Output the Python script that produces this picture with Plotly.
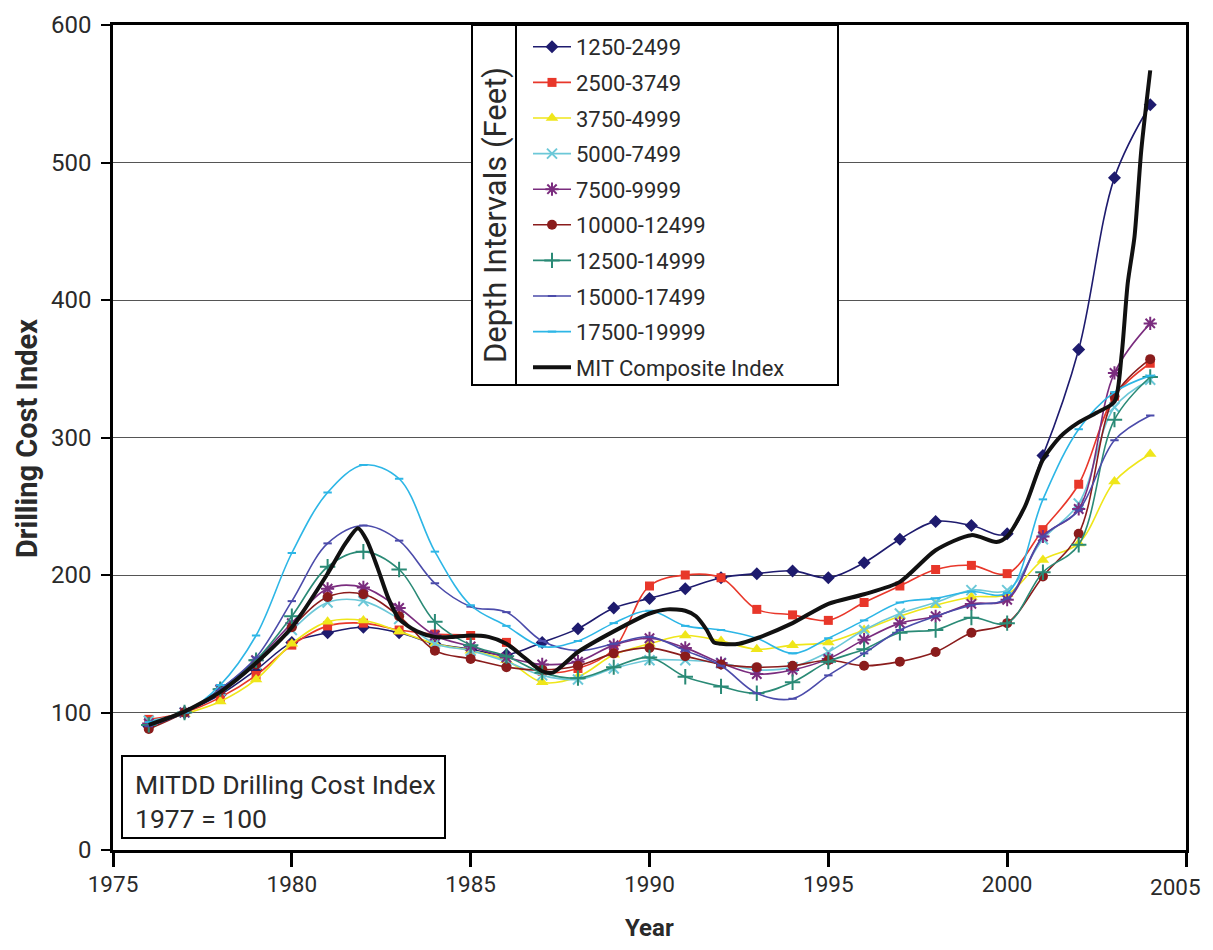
import plotly.graph_objects as go

years = list(range(1976, 2005))

d1250 = [90, 100, 113, 131, 151, 158, 162, 158, 150, 146, 142, 151, 161, 176, 183, 190, 198, 201, 203, 198, 209, 226, 239, 236, 230, 287, 364, 489, 542]
d2500 = [95, 100, 111, 127, 149, 163, 165, 160, 157, 156, 151, 130, 132, 146, 192, 200, 198, 175, 171, 167, 180, 192, 204, 207, 201, 233, 266, 330, 354]
d3750 = [93, 99, 108, 124, 150, 166, 167, 159, 150, 145, 138, 122, 126, 142, 150, 156, 152, 146, 149, 151, 160, 170, 178, 184, 186, 211, 223, 268, 288]
d5000 = [94, 100, 116, 135, 160, 180, 181, 168, 150, 145, 137, 127, 124, 132, 138, 138, 136, 131, 133, 144, 160, 172, 180, 189, 189, 226, 252, 322, 342]
d7500 = [92, 100, 117, 138, 165, 190, 191, 176, 156, 148, 140, 135, 137, 149, 154, 147, 136, 128, 131, 139, 153, 165, 170, 179, 182, 228, 248, 347, 383]
d10000 = [88, 100, 116, 135, 162, 184, 186, 170, 145, 139, 133, 131, 134, 143, 147, 141, 135, 133, 134, 138, 134, 137, 144, 158, 165, 199, 230, 330, 357]
d12500 = [91, 100, 117, 138, 170, 206, 217, 204, 166, 149, 141, 129, 125, 133, 140, 126, 119, 114, 122, 137, 146, 158, 160, 169, 165, 202, 222, 313, 344]
d15000 = [90, 100, 117, 140, 181, 223, 236, 225, 194, 177, 173, 152, 145, 150, 155, 145, 134, 114, 110, 127, 143, 160, 170, 178, 183, 228, 247, 298, 316]
d17500 = [93, 100, 120, 156, 216, 260, 280, 270, 217, 178, 163, 148, 152, 165, 174, 163, 160, 154, 143, 154, 167, 180, 183, 188, 187, 255, 306, 333, 345]

comp_years = [1976, 1977, 1978, 1979, 1980, 1981, 1981.5, 1981.85, 1982.1, 1982.4, 1982.7, 1983, 1983.5, 1984,
              1984.5, 1985, 1985.5, 1986, 1986.5, 1987, 1987.3, 1988, 1989, 1990, 1990.5, 1991, 1991.3, 1991.6,
              1991.8, 1992, 1992.5, 1993, 1994, 1995, 1996, 1997, 1998, 1999, 1999.7, 2000, 2000.5, 2001,
              2001.5, 2002, 2002.5, 2003, 2003.2, 2003.37, 2003.56, 2003.75, 2004]
composite = [91, 100.6, 115, 136, 162, 201, 223, 234, 225, 205, 183, 168, 159, 155,
             155, 156, 155, 150, 140, 130, 129, 144, 159, 172, 175, 174, 170, 160,
             151, 150, 150, 154, 165, 179, 186, 195, 218, 229, 224, 228, 250, 284,
             301, 311, 318, 326, 360, 412, 446, 509, 567]

names = ["1250-2499", "2500-3749", "3750-4999", "5000-7499", "7500-9999",
         "10000-12499", "12500-14999", "15000-17499", "17500-19999"]
series = [d1250, d2500, d3750, d5000, d7500, d10000, d12500, d15000, d17500]
colors = ["#1E1B6E", "#E8372A", "#EFE61A", "#6CC8D8", "#7A2C7E",
          "#8A1C1C", "#2A8A76", "#4B4BAA", "#2DB6E6"]
symbols = ["diamond", "square", "triangle-up", "x-thin", "asterisk-open",
           "circle", "cross-thin", "line-ew", "line-ew"]
sizes = [10, 9, 11, 10, 11, 10, 11, 6, 6]
open_syms = {"x-thin", "asterisk-open", "cross-thin", "line-ew"}

x_tickvals = [1975, 1980, 1985, 1990, 1995, 2000, 2005]
x_ticktext = ["1975", "1980", "1985", "1990", "1995", "2000", ""]
last_tick_label = "2005"
y_tickvals = [0, 100, 200, 300, 400, 500, 600]

FONT = "Roboto, 'DejaVu Sans Condensed', sans-serif"
TXT = "#2a2a2a"

fig = go.Figure()
for i, (nm, vals) in enumerate(zip(names, series)):
    fig.add_trace(go.Scatter(
        x=years, y=vals, name=nm, mode="lines+markers", legendgroup=nm,
        line=dict(color=colors[i], width=1.6, shape="spline", smoothing=1.0),
        marker=dict(symbol=symbols[i], size=sizes[i], color=colors[i],
                    line=dict(color=colors[i], width=2 if symbols[i] in open_syms else 0)),
    ))
fig.add_trace(go.Scatter(
    x=comp_years, y=composite, name="MIT Composite Index", mode="lines", legendgroup="mit",
    line=dict(color="#111111", width=4, shape="spline", smoothing=0.7),
))

# page pixel -> paper coordinates (plot area spans x 113..1186, y 25..850 on the page)
def px_x(p):
    return (p - 113) / 1073

def px_y(p):
    return (850 - p) / 825

shapes = [
    dict(type="rect", xref="paper", yref="paper", x0=px_x(472), x1=px_x(838), y0=px_y(385), y1=px_y(25),
         line=dict(color="black", width=2), fillcolor="white", layer="above"),
    dict(type="line", xref="paper", yref="paper", x0=px_x(516), x1=px_x(516), y0=px_y(385), y1=px_y(25),
         line=dict(color="black", width=2), layer="above"),
    dict(type="rect", xref="paper", yref="paper", x0=px_x(122), x1=px_x(445), y0=px_y(838), y1=px_y(756),
         line=dict(color="black", width=2), fillcolor="white", layer="above"),
]

annotations = [
    dict(text="Depth Intervals (Feet)", textangle=-90, xref="paper", yref="paper",
         x=px_x(495), y=px_y(215), showarrow=False, xanchor="center", yanchor="middle",
         font=dict(family=FONT, size=31, color=TXT)),
    dict(text="MITDD Drilling Cost Index<br>1977 = 100", xref="paper", yref="paper",
         x=px_x(133), y=px_y(801), showarrow=False, xanchor="left", yanchor="middle", align="left",
         font=dict(family=FONT, size=26.5, color=TXT)),
    dict(text="<b>Year</b>", xref="paper", yref="paper", x=px_x(649), y=px_y(928), showarrow=False,
         xanchor="center", yanchor="middle", font=dict(family=FONT, size=24, color=TXT)),
    dict(text="<b>Drilling Cost Index</b>", textangle=-90, xref="paper", yref="paper",
         x=px_x(27), y=px_y(439), showarrow=False, xanchor="center", yanchor="middle",
         font=dict(family=FONT, size=29, color=TXT)),
    # last x tick label, nudged left so it stays inside the page
    dict(text=last_tick_label, xref="x", yref="paper", x=x_tickvals[-1], y=px_y(887),
         showarrow=False, xanchor="right", yanchor="middle", xshift=17,
         font=dict(family=FONT, size=22.5, color=TXT)),
]

fig.update_layout(
    width=1205, height=934,
    margin=dict(l=105, r=27, t=17, b=92, autoexpand=False),
    paper_bgcolor="white", plot_bgcolor="white",
    font=dict(family=FONT, size=24, color=TXT),
    shapes=shapes, annotations=annotations,
    showlegend=True,
    legend=dict(x=px_x(528), y=px_y(26), xanchor="left", yanchor="top",
                bgcolor="rgba(0,0,0,0)", borderwidth=0, tracegroupgap=4,
                font=dict(family=FONT, size=22, color=TXT), itemwidth=38),
)
fig.update_xaxes(range=[1975, 2005], tickvals=x_tickvals, ticktext=x_ticktext,
                 showgrid=False, zeroline=False, showline=True, linecolor="black", linewidth=2.5,
                 mirror=True, ticks="outside", ticklen=14, tickwidth=2.5, tickcolor="black",
                 ticklabelstandoff=-2, automargin=False,
                 tickfont=dict(family=FONT, size=22.5, color=TXT))
fig.update_yaxes(range=[0, 600], tickvals=y_tickvals,
                 showgrid=True, gridcolor="#555555", gridwidth=1.2, zeroline=False,
                 showline=True, linecolor="black", linewidth=2.5, mirror=True,
                 ticks="outside", ticklen=9, tickwidth=2, tickcolor="black",
                 ticklabelstandoff=5, automargin=False,
                 tickfont=dict(family=FONT, size=24, color=TXT))

fig.write_html("out.html")
